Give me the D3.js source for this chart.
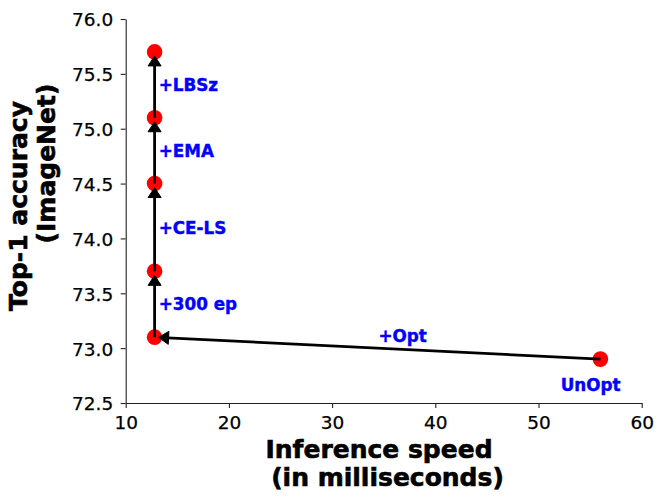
<!DOCTYPE html>
<html>
<head>
<meta charset="utf-8">
<script src="https://cdn.jsdelivr.net/npm/d3@7"></script>
<style>
  body { margin: 0; background: #fff; }
  svg text { font-family: "DejaVu Sans", sans-serif; }
</style>
</head>
<body>
<div id="chart"></div>
<script>
// each step of the training recipe, from the unoptimized model upward
const steps = ["UnOpt", "+Opt", "+300 ep", "+CE-LS", "+EMA", "+LBSz"];
const speedMs = [56.0, 12.8, 12.8, 12.8, 12.8, 12.8];
const top1 = [72.9, 73.1, 73.7, 74.5, 75.1, 75.7];

// where each step's label sits, in data units
const labelX = [52.15, 34.5, 13.2, 13.2, 13.2, 13.2];
const labelY = [72.66, 73.11, 73.4, 74.1, 74.8, 75.4];

const xTicks = [10, 20, 30, 40, 50, 60];
const yTicks = [72.5, 73.0, 73.5, 74.0, 74.5, 75.0, 75.5, 76.0];

const width = 665;
const height = 503;
const plotLeft = 125.7, plotRight = 641.7, plotTop = 19, plotBottom = 403;

const svg = d3.select("#chart")
    .append("svg")
    .attr("width", width)
    .attr("height", height);

const x = d3.scaleLinear().domain([10, 60]).range([plotLeft, plotRight]);
const y = d3.scaleLinear().domain([72.5, 76.0]).range([plotBottom, plotTop]);

// axes, only left and bottom spines like the original
const xAxis = svg.append("g")
    .attr("transform", `translate(0,${plotBottom})`)
    .call(d3.axisBottom(x).tickValues(xTicks).tickFormat(d3.format("d"))
        .tickSize(5).tickPadding(8).tickSizeOuter(0));

const yAxis = svg.append("g")
    .attr("transform", `translate(${plotLeft},0)`)
    .call(d3.axisLeft(y).tickValues(yTicks).tickFormat(d3.format(".1f"))
        .tickSize(5).tickPadding(7.5).tickSizeOuter(0));

[xAxis, yAxis].forEach(a => {
    a.select(".domain").attr("stroke", "#222").attr("stroke-width", 1.1);
    a.selectAll(".tick line").attr("stroke", "#222").attr("stroke-width", 1.1);
    a.selectAll(".tick text")
        .attr("fill", "#000")
        .attr("stroke", "#000")
        .attr("stroke-width", 0.25)
        .style("font-size", "18.5px")
        .style("font-family", "DejaVu Sans");
});
yAxis.selectAll(".tick text").attr("dy", "0.37em");

// points
const pts = steps.map((s, i) => ({ name: s, px: x(speedMs[i]), py: y(top1[i]) }));

svg.append("g")
    .selectAll("circle")
    .data(pts)
    .enter()
    .append("circle")
    .attr("cx", d => d.px)
    .attr("cy", d => d.py)
    .attr("r", 7.8)
    .attr("fill", "#ff0000");

// arrows from one step to the next
const headLen = 10, headHalf = 6.5, shrink = 4;
const arrows = svg.append("g");
for (let i = 0; i < pts.length - 1; i++) {
    const a = pts[i], b = pts[i + 1];
    const dx = b.px - a.px, dy = b.py - a.py;
    const len = Math.sqrt(dx * dx + dy * dy);
    const ux = dx / len, uy = dy / len;
    const tipX = b.px - ux * shrink, tipY = b.py - uy * shrink;
    const baseX = tipX - ux * headLen, baseY = tipY - uy * headLen;
    arrows.append("line")
        .attr("x1", a.px).attr("y1", a.py)
        .attr("x2", baseX + ux * 1).attr("y2", baseY + uy * 1)
        .attr("stroke", "#000")
        .attr("stroke-width", 2.8);
    arrows.append("path")
        .attr("d", `M${tipX},${tipY}L${baseX - uy * headHalf},${baseY + ux * headHalf}` +
            `L${baseX + uy * headHalf},${baseY - ux * headHalf}Z`)
        .attr("fill", "#000")
        .attr("stroke", "#000")
        .attr("stroke-width", 1);
}

// step labels
svg.append("g")
    .selectAll("text")
    .data(steps)
    .enter()
    .append("text")
    .attr("x", (d, i) => x(labelX[i]))
    .attr("y", (d, i) => y(labelY[i]))
    .attr("dy", "0.36em")
    .attr("fill", "#0000ff")
    .attr("stroke", "#0000ff")
    .attr("stroke-width", 0.4)
    .style("font-size", "16.8px")
    .style("font-weight", "bold")
    .text(d => d);

// axis titles
const xTitle = svg.append("g")
    .style("font-size", "25px")
    .style("font-weight", "bold")
    .attr("stroke", "#000")
    .attr("stroke-width", 0.6)
    .attr("text-anchor", "middle");
xTitle.append("text").attr("x", 379).attr("y", 458).text("Inference speed");
xTitle.append("text").attr("x", 387.5).attr("y", 486).text("(in milliseconds)");

const yTitle = svg.append("g")
    .style("font-size", "25px")
    .style("font-weight", "bold")
    .attr("stroke", "#000")
    .attr("stroke-width", 0.6)
    .attr("text-anchor", "middle");
yTitle.append("text")
    .attr("transform", "translate(27,206) rotate(-90)")
    .text("Top-1 accuracy");
yTitle.append("text")
    .attr("transform", "translate(55,163.5) rotate(-90)")
    .text("(ImageNet)");
</script>
</body>
</html>
